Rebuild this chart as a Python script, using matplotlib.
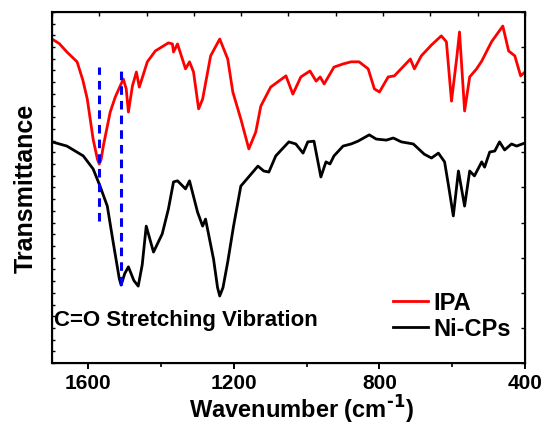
import matplotlib
matplotlib.use("Agg")
import matplotlib.pyplot as plt
from matplotlib.ticker import MultipleLocator

# FTIR spectra, transmittance in arbitrary units (curves offset for display)
ipa_wn = [1700, 1680, 1659, 1631, 1615, 1603, 1587, 1575, 1570, 1565, 1559, 1540,
          1526, 1504, 1496, 1490, 1479, 1468, 1460, 1438, 1416, 1380, 1369, 1366,
          1355, 1333, 1322, 1311, 1297, 1286, 1264, 1239, 1217, 1203, 1181, 1159,
          1140, 1126, 1099, 1057, 1038, 1016, 991, 974, 963, 952, 925, 900, 878,
          856, 831, 814, 800, 776, 759, 715, 704, 685, 657, 630, 616, 602, 588,
          580, 566, 552, 533, 519, 492, 461, 445, 428, 412, 400]
ipa_t = [92.3, 91.0, 88.6, 85.8, 80.5, 75.2, 63.8, 58.0, 56.7, 58.0, 61.8, 71.5,
         75.8, 80.9, 78.1, 71.5, 78.9, 82.9, 78.6, 85.8, 88.9, 91.2, 90.9, 88.6,
         90.9, 83.8, 85.8, 82.9, 72.4, 75.2, 87.5, 92.3, 86.6, 77.2, 69.5, 61.0,
         65.8, 73.2, 78.6, 81.8, 76.6, 81.5, 83.2, 80.3, 81.5, 79.5, 84.3, 85.2,
         85.8, 85.8, 83.8, 78.1, 77.2, 81.5, 81.8, 86.6, 83.8, 87.5, 90.6, 93.2,
         91.5, 74.6, 86.6, 94.3, 71.8, 81.5, 83.8, 86.0, 91.5, 96.0, 88.9, 87.5,
         81.8, 82.9]

nicp_wn = [1700, 1659, 1614, 1587, 1568, 1548, 1532, 1515, 1510, 1500, 1490, 1475,
           1463, 1452, 1441, 1421, 1397, 1380, 1366, 1355, 1333, 1322, 1300, 1286,
           1278, 1256, 1245, 1239, 1230, 1217, 1201, 1181, 1134, 1118, 1104, 1085,
           1049, 1030, 1010, 997, 980, 961, 947, 936, 925, 900, 878, 859, 828, 809,
           781, 762, 740, 707, 677, 657, 638, 621, 610, 597, 583, 566, 552, 539,
           519, 511, 497, 483, 470, 456, 437, 423, 400]
nicp_t = [63.0, 61.8, 59.0, 55.3, 50.4, 44.7, 34.5, 24.0, 22.2, 25.5, 27.4, 23.5,
          21.9, 28.0, 39.0, 31.6, 36.8, 43.9, 51.6, 51.9, 49.6, 51.9, 43.0, 39.0,
          41.0, 29.6, 21.5, 19.1, 21.5, 28.8, 39.0, 50.4, 56.1, 54.7, 54.4, 59.0,
          63.0, 62.4, 59.8, 63.0, 63.2, 53.0, 57.3, 56.7, 59.0, 61.8, 62.4, 63.2,
          65.0, 63.8, 63.5, 64.1, 63.0, 62.4, 59.5, 58.4, 59.8, 57.3, 50.4, 41.9,
          54.7, 44.7, 54.7, 53.3, 57.3, 55.8, 60.1, 60.4, 63.0, 60.7, 62.4, 61.8,
          62.7]

# C=O stretching markers: position, lower end, upper end
co_wn = [1570, 1510]
co_lo = [40.5, 22.2]
co_hi = [84.3, 84.3]

plt.rcParams["font.family"] = ["Liberation Sans", "DejaVu Sans"]
plt.rcParams["font.weight"] = "bold"

fig = plt.figure(figsize=(5.45, 4.27), dpi=100)
ax = fig.add_axes([0.0954, 0.1475, 0.8679, 0.8221])

ax.plot(ipa_wn, ipa_t, color="red", lw=2.0, solid_joinstyle="round", label="IPA")
ax.plot(nicp_wn, nicp_t, color="black", lw=2.0, solid_joinstyle="round", label="Ni-CPs")
for x, lo, hi in zip(co_wn, co_lo, co_hi):
    ax.plot([x, x], [lo, hi], color="#0000ee", lw=2.2, dashes=(2.8, 2.0))

ax.set_xlim(1700, 400)
ax.set_ylim(0, 100)
ax.xaxis.set_minor_locator(MultipleLocator(200))
ax.set_xticks([1600, 1200, 800, 400])
ax.tick_params(axis="x", which="major", direction="out", length=4.5, width=1.4,
               labelsize=15, pad=3)
ax.tick_params(axis="x", which="minor", direction="out", length=3, width=1.2)
ax.yaxis.set_major_locator(MultipleLocator(100 / 30))
ax.tick_params(axis="y", which="major", direction="in", length=2.5, width=1,
               labelleft=False)
for s in ax.spines.values():
    s.set_linewidth(1.5)

# frame ticks on top and right
axt = ax.twiny()
axt.set_xlim(0, 10)
axt.set_xticks(range(11))
axt.tick_params(axis="x", direction="in", length=3, width=1, labeltop=False)
axr = ax.twinx()
axr.set_ylim(0, 10)
axr.set_yticks(range(11))
axr.tick_params(axis="y", direction="in", length=3, width=1, labelright=False)

ax.set_xlabel("Wavenumber (cm$^{\\text{-1}}$)", fontsize=17, fontweight="bold")
ax.xaxis.set_label_coords(0.527, -0.085)
ax.set_ylabel("Transmittance", fontsize=18, fontweight="bold", labelpad=10)

ax.text(0.004, 0.125, "C=O Stretching Vibration", transform=ax.transAxes,
        fontsize=16, fontweight="bold", ha="left", va="center")

leg = ax.legend(loc="center left", bbox_to_anchor=(0.695, 0.135), frameon=False,
                fontsize=17, handlelength=1.5, handletextpad=0.25,
                labelspacing=0.15, borderpad=0)
for t in leg.get_texts():
    t.set_fontweight("bold")

fig.savefig("out.png", dpi=100)
